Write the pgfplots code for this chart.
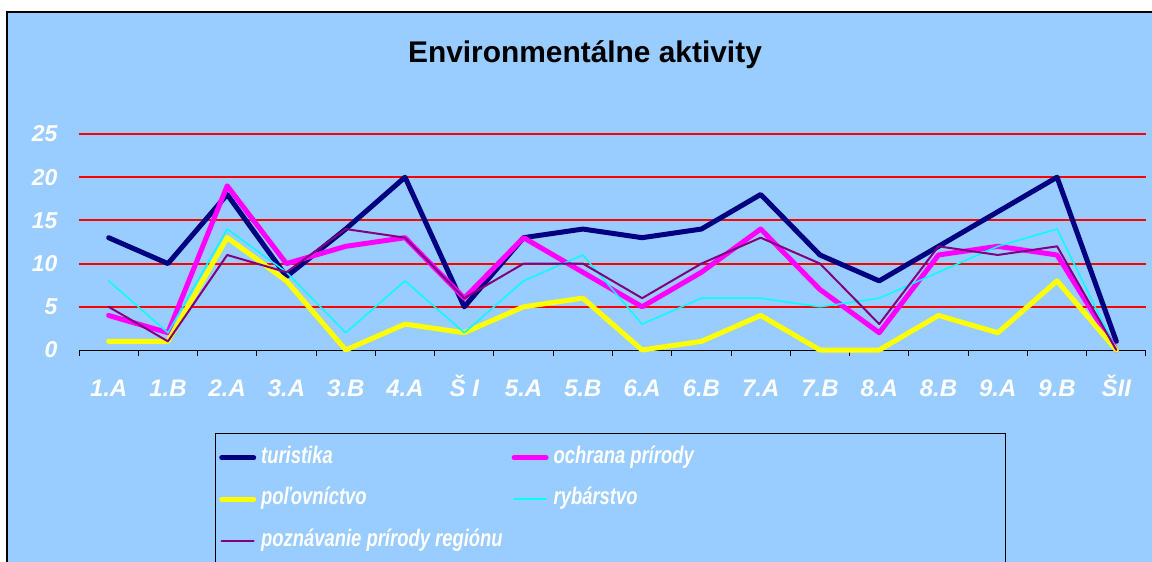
\documentclass[border=0pt]{standalone}
\usepackage{pgfplots}
\usepackage{pgfplotstable}
\usepackage{graphicx}
\pgfplotsset{compat=1.18}
\usepackage{fontspec}
\setmainfont{Liberation Sans}
\definecolor{bg}{HTML}{99CCFF}
\definecolor{navyc}{HTML}{000080}
\definecolor{magc}{HTML}{FF00FF}
\definecolor{yelc}{HTML}{FFFF00}
\definecolor{cyac}{HTML}{00FFFF}
\definecolor{purc}{HTML}{800080}
\pgfplotstableread{
x tur och pol ryb poz
0 13 4 1 8 5
1 10 2 1 2 1
2 18 19 13 14 11
3 8.5 10 8 9 9
4 14 12 0 2 14
5 20 13 3 8 13
6 5 6 2 2 6
7 13 13 5 8 10
8 14 9 6 11 10
9 13 5 0 3 6
10 14 9 1 6 10
11 18 14 4 6 13
12 11 7 0 5 10
13 8 2 0 6 3
14 12 11 4 9 12
15 16 12 2 12 11
16 20 11 8 14 12
17 1 0 0 0 0
}\data
\begin{document}
\begin{tikzpicture}
\path[use as bounding box] (0bp,0bp) rectangle (1152bp,-562bp);
\fill[white] (0bp,0bp) rectangle (1152bp,-562bp);
\fill[bg] (7bp,-12bp) rectangle (1160bp,-570bp);
\draw[black, line width=1.5bp] (7bp,-570bp) -- (7bp,-12bp) -- (1160bp,-12bp);
\node[font=\bfseries\fontsize{30}{36}\selectfont, anchor=base, inner sep=0pt] at (585bp,-62.5bp) {Environmentálne aktivity};
\draw[black, line width=1bp] (215bp,-600bp) -- (215bp,-433bp) -- (1005bp,-433bp) -- (1005bp,-600bp);
\begin{axis}[
  at={(79bp,-350bp)}, anchor=south west,
  scale only axis, width=1067bp, height=216bp,
  xmin=-0.5, xmax=17.5, ymin=0, ymax=25,
  clip=false,
  axis x line*=bottom, axis y line*=left,
  x axis line style={black, line width=1bp},
  y axis line style={draw=none},
  xtick={0,...,17},
  xticklabels={1.A,1.B,2.A,3.A,3.B,4.A,Š I,5.A,5.B,6.A,6.B,7.A,7.B,8.A,8.B,9.A,9.B,ŠII},
  minor xtick={-0.5,0.5,...,17.5},
  ytick={0,5,10,15,20,25},
  major tick length=0pt, minor tick length=6bp,
  tick align=outside,
  tick style={black, line width=1bp},
  extra y ticks={5,10,15,20,25},
  extra y tick labels={},
  extra y tick style={ymajorgrids=true, major tick length=0pt},
  y grid style={red, line width=2bp},
  xticklabel style={font=\bfseries\itshape\fontsize{24}{28}\selectfont, text=white, anchor=base, inner sep=0pt, yshift=-46bp},
  yticklabel style={font=\bfseries\itshape\fontsize{23}{27}\selectfont, text=white, anchor=east, inner sep=0pt, xshift=-21.5bp},
  /pgf/number format/assume math mode=true,
  legend columns=2,
  legend cell align=left,
  legend image code/.code={\draw[#1, line cap=round] (0bp,0bp) -- (32bp,0bp);},
  legend style={at={(0.13121,-0.4444)}, anchor=north west, draw=none, fill=none,
    inner xsep=0pt, inner ysep=0pt, row sep=18.5bp,
    font=\bfseries\itshape\fontsize{24}{28}\selectfont, text=white,
    nodes={inner sep=0pt, text height=17bp, text depth=6bp},
    /tikz/every odd column/.append style={column sep=5bp},
    /tikz/every even column/.append style={column sep=9bp}},
  every axis plot/.append style={line join=round, line cap=round},
]
\addplot[navyc, line width=5bp] table[x=x, y=tur] {\data};
\addplot[magc, line width=5bp] table[x=x, y=och] {\data};
\addplot[yelc, line width=5bp] table[x=x, y=pol] {\data};
\addplot[cyac, line width=1.5bp] table[x=x, y=ryb] {\data};
\addplot[purc, line width=2bp] table[x=x, y=poz] {\data};
\legend{\scalebox{0.77}[1]{turistika},\scalebox{0.77}[1]{ochrana prírody},\scalebox{0.77}[1]{poľovníctvo},\scalebox{0.77}[1]{rybárstvo},\scalebox{0.77}[1]{poznávanie prírody regiónu}}
\end{axis}
\end{tikzpicture}
\end{document}
